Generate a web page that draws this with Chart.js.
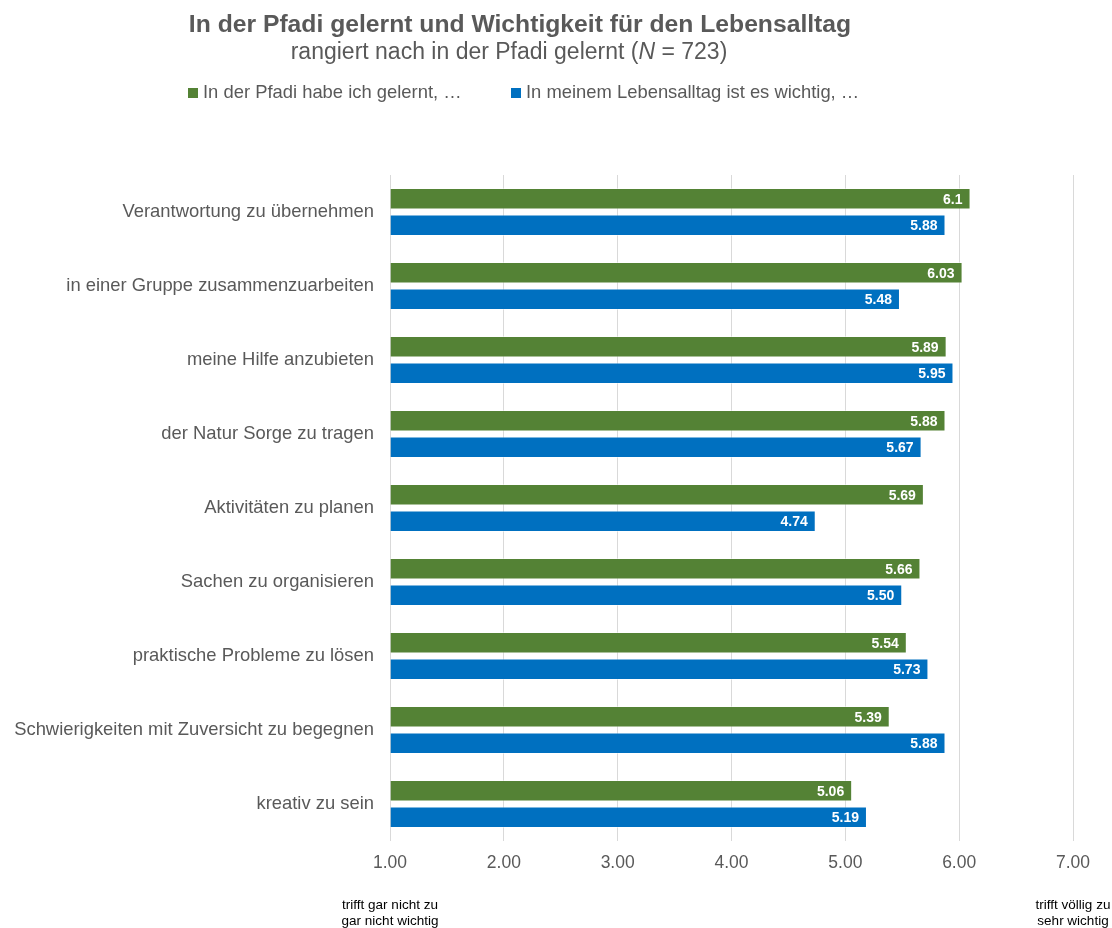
<!DOCTYPE html>
<html>
<head>
<meta charset="utf-8">
<script src="https://cdn.jsdelivr.net/npm/chart.js@4.4.1/dist/chart.umd.min.js"></script>
<style>
  body { margin: 0; background: #fff; }
  #wrap { position: relative; width: 1112px; height: 928px; }
</style>
</head>
<body>
<div id="wrap"><canvas id="chart"></canvas></div>
<script>
/* --------------- Data --------------------- */
const categories = [
  "Verantwortung zu übernehmen",
  "in einer Gruppe zusammenzuarbeiten",
  "meine Hilfe anzubieten",
  "der Natur Sorge zu tragen",
  "Aktivitäten zu planen",
  "Sachen zu organisieren",
  "praktische Probleme zu lösen",
  "Schwierigkeiten mit Zuversicht zu begegnen",
  "kreativ zu sein",
];
const gelernt = [6.1, 6.03, 5.89, 5.88, 5.69, 5.66, 5.54, 5.39, 5.06];
const wichtig = [5.88, 5.48, 5.95, 5.67, 4.74, 5.5, 5.73, 5.88, 5.19];
const seriesNames = ["In der Pfadi habe ich gelernt, …", "In meinem Lebensalltag ist es wichtig, …"];
const xTicks = [1, 2, 3, 4, 5, 6, 7];

const FONT = '"Liberation Sans", Arial, sans-serif';
const GREY = "#595959";

/* --------------- Title, legend, value labels, scale notes --------------------- */
const decorPlugin = {
  id: "decor",
  afterDraw(chart) {
    const ctx = chart.ctx;
    ctx.save();
    ctx.fillStyle = GREY;
    ctx.textBaseline = "middle";

    // Titel
    ctx.textAlign = "center";
    ctx.font = "bold 24.7px " + FONT;
    ctx.fillText("In der Pfadi gelernt und Wichtigkeit für den Lebensalltag", 520, 25);

    // Untertitel mit kursivem N
    const parts = [
      { t: "rangiert nach in der Pfadi gelernt (", f: "23px " + FONT },
      { t: "N", f: "italic 23px " + FONT },
      { t: " = 723)", f: "23px " + FONT },
    ];
    let total = 0;
    parts.forEach((p) => { ctx.font = p.f; p.w = ctx.measureText(p.t).width; total += p.w; });
    let x = 509 - total / 2;
    ctx.textAlign = "left";
    parts.forEach((p) => { ctx.font = p.f; ctx.fillText(p.t, x, 53); x += p.w; });

    // Legende
    const legendX = [188, 511];
    ctx.font = "18.4px " + FONT;
    chart.data.datasets.forEach((ds, i) => {
      ctx.fillStyle = ds.backgroundColor;
      ctx.fillRect(legendX[i], 88, 10, 10);
      ctx.fillStyle = GREY;
      ctx.fillText(ds.label, legendX[i] + 15, 93);
    });

    // Werte in den Balken
    ctx.fillStyle = "#ffffff";
    ctx.font = "bold 14px " + FONT;
    ctx.textAlign = "right";
    chart.data.datasets.forEach((ds, i) => {
      chart.getDatasetMeta(i).data.forEach((bar, j) => {
        ctx.fillText(ds.fmt(ds.data[j]), bar.x - 8, bar.y + 1);
      });
    });

    // Skalen-Beschriftung unten
    const xs = chart.scales.x;
    ctx.fillStyle = "#000000";
    ctx.font = "13.5px " + FONT;
    ctx.textAlign = "center";
    ctx.fillText("trifft gar nicht zu", xs.getPixelForValue(1), 905);
    ctx.fillText("gar nicht wichtig", xs.getPixelForValue(1), 921);
    ctx.fillText("trifft völlig zu", xs.getPixelForValue(7), 905);
    ctx.fillText("sehr wichtig", xs.getPixelForValue(7), 921);
    ctx.restore();
  },
};

/* --------------- Chart --------------------- */
new Chart(document.getElementById("chart"), {
  type: "bar",
  plugins: [decorPlugin],
  data: {
    labels: categories,
    datasets: [
      {
        label: seriesNames[0],
        data: gelernt,
        backgroundColor: "#548235",
        borderColor: "rgba(255,255,255,0.45)",
        borderWidth: 1,
        fmt: (v) => String(v),
      },
      {
        label: seriesNames[1],
        data: wichtig,
        backgroundColor: "#0070C0",
        borderColor: "rgba(255,255,255,0.45)",
        borderWidth: 1,
        fmt: (v) => v.toFixed(2),
      },
    ],
  },
  options: {
    indexAxis: "y",
    responsive: true,
    maintainAspectRatio: false,
    animation: false,
    base: 1,
    categoryPercentage: 0.716,
    barPercentage: 0.81,
    layout: { padding: { top: 175, right: 39, left: 0, bottom: 0 } },
    plugins: {
      legend: { display: false },
      title: { display: false },
      tooltip: { enabled: false },
    },
    scales: {
      x: {
        min: 1,
        max: 7,
        afterBuildTicks: (scale) => { scale.ticks = xTicks.map((v) => ({ value: v })); },
        afterFit: (scale) => { scale.height = 87; },
        ticks: {
          color: GREY,
          font: { family: FONT, size: 17.5 },
          padding: 12,
          callback: (v) => Number(v).toFixed(2),
        },
        grid: { color: "#d9d9d9", drawTicks: false },
        border: { display: false },
      },
      y: {
        afterFit: (scale) => { scale.width = 390; },
        ticks: {
          color: GREY,
          font: { family: FONT, size: 18.4 },
          padding: 16,
        },
        grid: { display: false, drawTicks: false },
        border: { display: false },
      },
    },
  },
});
</script>
</body>
</html>
